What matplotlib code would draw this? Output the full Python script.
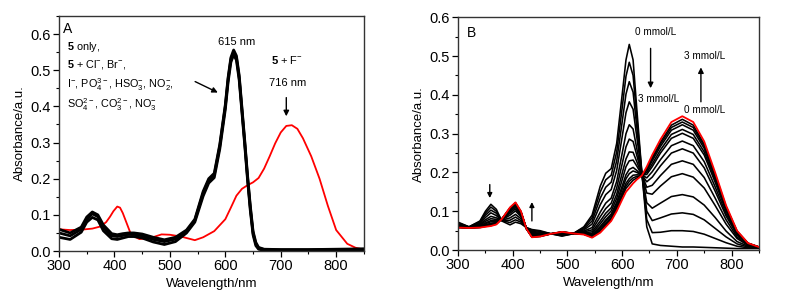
import numpy as np
import matplotlib
matplotlib.use('Agg')
import matplotlib.pyplot as plt
from matplotlib.ticker import MultipleLocator

plt.rcParams['font.family'] = ['Liberation Sans', 'DejaVu Sans']
plt.rcParams['mathtext.fontset'] = 'custom'
plt.rcParams['mathtext.rm'] = 'Liberation Sans'
plt.rcParams['mathtext.it'] = 'Liberation Sans:italic'
plt.rcParams['mathtext.bf'] = 'Liberation Sans:bold'
plt.rcParams['mathtext.default'] = 'regular'

""" Panel A: 5 alone / with other anions (black) and with F- (red) """
wl_a = [300, 320, 340, 350, 360, 370, 380, 395, 405, 415, 425, 435, 450, 470, 490,
        510, 530, 545, 560, 570, 580, 590, 600, 605, 610, 615, 620, 625, 630, 635,
        640, 645, 650, 655, 660, 670, 700, 750, 800, 850]
a_black_hi = [0.060, 0.050, 0.066, 0.094, 0.108, 0.100, 0.072, 0.048, 0.045, 0.048,
              0.050, 0.050, 0.047, 0.038, 0.031, 0.038, 0.058, 0.088, 0.165, 0.200,
              0.215, 0.295, 0.405, 0.480, 0.535, 0.556, 0.540, 0.486, 0.396, 0.306,
              0.211, 0.126, 0.055, 0.024, 0.010, 0.005, 0.004, 0.004, 0.005, 0.006]
a_black_mid = [0.050, 0.042, 0.060, 0.088, 0.103, 0.095, 0.065, 0.042, 0.040, 0.043,
               0.046, 0.046, 0.042, 0.032, 0.026, 0.033, 0.055, 0.085, 0.160, 0.195,
               0.210, 0.290, 0.400, 0.475, 0.530, 0.550, 0.535, 0.480, 0.390, 0.300,
               0.205, 0.120, 0.050, 0.020, 0.008, 0.004, 0.003, 0.003, 0.004, 0.005]
a_black_lo = [0.038, 0.032, 0.052, 0.080, 0.093, 0.086, 0.056, 0.034, 0.032, 0.036,
              0.040, 0.040, 0.036, 0.025, 0.018, 0.026, 0.050, 0.080, 0.152, 0.188,
              0.203, 0.282, 0.392, 0.467, 0.522, 0.543, 0.528, 0.473, 0.383, 0.293,
              0.198, 0.113, 0.045, 0.015, 0.005, 0.002, 0.002, 0.002, 0.003, 0.004]

wl_a_red = [300, 320, 340, 360, 375, 385, 392, 398, 405, 410, 415, 420, 430, 445, 465,
            485, 500, 520, 545, 560, 580, 600, 610, 620, 630, 640, 650, 660, 670, 680,
            690, 700, 710, 720, 730, 740, 755, 770, 785, 800, 820, 835, 850]
a_red = [0.060, 0.058, 0.059, 0.062, 0.068, 0.080, 0.095, 0.110, 0.123, 0.120,
         0.105, 0.085, 0.045, 0.033, 0.036, 0.046, 0.045, 0.040, 0.030, 0.038,
         0.055, 0.088, 0.120, 0.153, 0.172, 0.182, 0.190, 0.202, 0.228, 0.262,
         0.298, 0.328, 0.346, 0.348, 0.338, 0.312, 0.262, 0.200, 0.125, 0.058,
         0.020, 0.009, 0.004]

""" Panel B: titration with F- (0 -> 3 mmol/L) """
wl_b = [300, 320, 340, 350, 360, 370, 380, 395, 405, 415, 425, 435, 450, 470, 490,
        510, 530, 545, 560, 570, 580, 590, 600, 607, 613, 620, 627, 636, 645, 655,
        670, 690, 710, 730, 750, 770, 790, 810, 830, 850]

b_curves = [
    # 0 mmol/L
    [0.072, 0.060, 0.075, 0.100, 0.118, 0.105, 0.075, 0.065, 0.072, 0.068, 0.058, 0.053,
     0.050, 0.042, 0.036, 0.042, 0.060, 0.090, 0.165, 0.198, 0.210, 0.275, 0.400, 0.490,
     0.530, 0.490, 0.360, 0.200, 0.060, 0.016, 0.012, 0.010, 0.008, 0.008, 0.007, 0.006,
     0.005, 0.004, 0.004, 0.004],
    [0.070, 0.060, 0.073, 0.095, 0.111, 0.100, 0.076, 0.071, 0.078, 0.072, 0.058, 0.051,
     0.048, 0.042, 0.037, 0.042, 0.058, 0.083, 0.150, 0.181, 0.193, 0.253, 0.366, 0.448,
     0.484, 0.450, 0.338, 0.199, 0.079, 0.045, 0.046, 0.050, 0.050, 0.048, 0.041, 0.030,
     0.019, 0.010, 0.006, 0.005],
    [0.068, 0.059, 0.071, 0.090, 0.103, 0.095, 0.076, 0.077, 0.085, 0.076, 0.057, 0.048,
     0.046, 0.042, 0.039, 0.042, 0.055, 0.075, 0.134, 0.162, 0.175, 0.230, 0.330, 0.402,
     0.434, 0.407, 0.314, 0.198, 0.100, 0.076, 0.083, 0.093, 0.096, 0.092, 0.078, 0.056,
     0.034, 0.016, 0.008, 0.005],
    [0.066, 0.059, 0.068, 0.084, 0.096, 0.089, 0.077, 0.083, 0.092, 0.081, 0.057, 0.045,
     0.044, 0.042, 0.040, 0.042, 0.052, 0.067, 0.117, 0.143, 0.156, 0.205, 0.292, 0.354,
     0.382, 0.363, 0.289, 0.197, 0.122, 0.108, 0.121, 0.138, 0.143, 0.137, 0.116, 0.084,
     0.049, 0.022, 0.010, 0.006],
    [0.064, 0.058, 0.066, 0.078, 0.087, 0.083, 0.078, 0.090, 0.101, 0.086, 0.056, 0.042,
     0.042, 0.042, 0.042, 0.043, 0.049, 0.058, 0.098, 0.121, 0.134, 0.177, 0.249, 0.300,
     0.323, 0.312, 0.260, 0.196, 0.147, 0.144, 0.165, 0.189, 0.197, 0.188, 0.160, 0.115,
     0.067, 0.030, 0.012, 0.006],
    [0.063, 0.058, 0.064, 0.074, 0.081, 0.079, 0.078, 0.095, 0.106, 0.089, 0.056, 0.040,
     0.040, 0.042, 0.043, 0.043, 0.047, 0.052, 0.086, 0.107, 0.121, 0.160, 0.222, 0.266,
     0.286, 0.280, 0.243, 0.195, 0.162, 0.167, 0.192, 0.221, 0.230, 0.221, 0.187, 0.134,
     0.078, 0.034, 0.013, 0.007],
    [0.062, 0.058, 0.062, 0.070, 0.076, 0.076, 0.079, 0.099, 0.110, 0.092, 0.056, 0.038,
     0.039, 0.042, 0.044, 0.043, 0.045, 0.047, 0.075, 0.095, 0.109, 0.144, 0.198, 0.235,
     0.253, 0.252, 0.227, 0.194, 0.176, 0.188, 0.217, 0.250, 0.261, 0.250, 0.212, 0.152,
     0.088, 0.039, 0.015, 0.007],
    [0.061, 0.058, 0.061, 0.068, 0.073, 0.073, 0.079, 0.102, 0.113, 0.094, 0.056, 0.037,
     0.038, 0.042, 0.045, 0.043, 0.044, 0.043, 0.068, 0.086, 0.101, 0.133, 0.181, 0.215,
     0.230, 0.232, 0.216, 0.194, 0.186, 0.202, 0.233, 0.269, 0.281, 0.269, 0.228, 0.163,
     0.094, 0.041, 0.015, 0.007],
    [0.060, 0.057, 0.060, 0.065, 0.069, 0.071, 0.079, 0.104, 0.116, 0.096, 0.055, 0.036,
     0.037, 0.042, 0.046, 0.043, 0.043, 0.040, 0.061, 0.078, 0.093, 0.123, 0.165, 0.194,
     0.208, 0.213, 0.205, 0.193, 0.195, 0.215, 0.250, 0.288, 0.301, 0.288, 0.245, 0.175,
     0.101, 0.044, 0.016, 0.007],
    [0.059, 0.057, 0.060, 0.064, 0.068, 0.070, 0.080, 0.106, 0.118, 0.097, 0.055, 0.035,
     0.037, 0.042, 0.046, 0.043, 0.042, 0.038, 0.057, 0.074, 0.089, 0.118, 0.157, 0.184,
     0.197, 0.204, 0.200, 0.193, 0.200, 0.222, 0.258, 0.298, 0.311, 0.298, 0.253, 0.181,
     0.104, 0.045, 0.017, 0.008],
    [0.059, 0.057, 0.059, 0.063, 0.066, 0.069, 0.080, 0.107, 0.120, 0.098, 0.055, 0.034,
     0.036, 0.042, 0.046, 0.043, 0.041, 0.036, 0.053, 0.069, 0.084, 0.111, 0.148, 0.172,
     0.184, 0.193, 0.194, 0.193, 0.205, 0.230, 0.267, 0.309, 0.323, 0.309, 0.262, 0.187,
     0.108, 0.047, 0.017, 0.008],
    [0.059, 0.057, 0.059, 0.062, 0.065, 0.068, 0.080, 0.108, 0.121, 0.099, 0.055, 0.034,
     0.036, 0.042, 0.047, 0.043, 0.041, 0.035, 0.050, 0.066, 0.081, 0.108, 0.142, 0.165,
     0.177, 0.186, 0.190, 0.192, 0.208, 0.235, 0.273, 0.316, 0.330, 0.316, 0.268, 0.191,
     0.110, 0.048, 0.017, 0.008],
    [0.058, 0.057, 0.058, 0.061, 0.063, 0.067, 0.080, 0.109, 0.122, 0.099, 0.055, 0.034,
     0.035, 0.042, 0.047, 0.043, 0.041, 0.033, 0.048, 0.063, 0.078, 0.104, 0.137, 0.159,
     0.169, 0.180, 0.186, 0.192, 0.211, 0.239, 0.278, 0.322, 0.337, 0.322, 0.273, 0.195,
     0.112, 0.049, 0.018, 0.008],
]
# 3 mmol/L
b_red = [0.058, 0.057, 0.058, 0.060, 0.062, 0.066, 0.080, 0.110, 0.123, 0.100, 0.055,
         0.033, 0.035, 0.042, 0.047, 0.043, 0.040, 0.032, 0.045, 0.060, 0.075, 0.100,
         0.130, 0.150, 0.160, 0.172, 0.182, 0.192, 0.215, 0.245, 0.285, 0.330, 0.345,
         0.330, 0.280, 0.200, 0.115, 0.050, 0.018, 0.008]

fig = plt.figure(figsize=(7.98, 3.08), dpi=100)
fig.set_facecolor('white')
axA = fig.add_axes([0.074, 0.185, 0.382, 0.763])
axB = fig.add_axes([0.574, 0.188, 0.377, 0.756])


def style(ax, ymax):
    ax.set_xlim(300, 850)
    ax.set_ylim(0, ymax)
    ax.xaxis.set_major_locator(MultipleLocator(100))
    ax.xaxis.set_minor_locator(MultipleLocator(50))
    ax.yaxis.set_major_locator(MultipleLocator(0.1))
    ax.yaxis.set_minor_locator(MultipleLocator(0.05))
    ax.tick_params(which='major', direction='out', length=4, width=0.9, labelsize=10.5, pad=2)
    ax.tick_params(which='minor', direction='out', length=2, width=0.8)
    for s in ax.spines.values():
        s.set_linewidth(1.0)
        s.set_color('#333333')
    ax.set_xlabel('Wavelength/nm', fontsize=9.5, labelpad=3)
    ax.set_ylabel('Absorbance/a.u.', fontsize=9.5, labelpad=3)


# ---- panel A ----
axA.plot(wl_a_red, a_red, color='#FF0000', lw=1.3)
for ys in (a_black_hi, a_black_lo, a_black_mid):
    axA.plot(wl_a, ys, color='black', lw=2.0)
style(axA, 0.65)
axA.text(307, 0.615, 'A', fontsize=10, va='center')
txt_kw = dict(fontsize=7.8, va='center', ha='left')
axA.text(315, 0.565, r'$\mathbf{5}$ only,', **txt_kw)
axA.text(315, 0.517, r'$\mathbf{5}$ + Cl$^{-}$, Br$^{-}$,', **txt_kw)
axA.text(315, 0.460, r'I$^{-}$, PO$_4^{3-}$, HSO$_3^{-}$, NO$_2^{-}$,', **txt_kw)
axA.text(315, 0.405, r'SO$_4^{2-}$, CO$_3^{2-}$, NO$_3^{-}$', **txt_kw)
axA.annotate('', xy=(591, 0.435), xytext=(541, 0.472),
             arrowprops=dict(arrowstyle='-|>', color='black', lw=1.0, mutation_scale=8))
axA.text(621, 0.578, '615 nm', fontsize=8, ha='center', va='center')
axA.text(712, 0.527, r'$\mathbf{5}$ + F$^{-}$', fontsize=8, ha='center', va='center')
axA.text(712, 0.465, '716 nm', fontsize=8, ha='center', va='center')
axA.annotate('', xy=(710, 0.365), xytext=(710, 0.432),
             arrowprops=dict(arrowstyle='-|>', color='black', lw=1.0, mutation_scale=8))

# ---- panel B ----
for ys in b_curves:
    axB.plot(wl_b, ys, color='black', lw=1.15)
axB.plot(wl_b, b_red, color='#FF0000', lw=1.3)
style(axB, 0.6)
axB.text(316, 0.56, 'B', fontsize=10, va='center')
axB.text(661, 0.562, '0 mmol/L', fontsize=7.2, ha='center', va='center')
axB.annotate('', xy=(652, 0.41), xytext=(652, 0.527),
             arrowprops=dict(arrowstyle='-|>', color='black', lw=1.0, mutation_scale=8))
axB.text(667, 0.389, '3 mmol/L', fontsize=7.2, ha='center', va='center')
axB.text(750, 0.50, '3 mmol/L', fontsize=7.2, ha='center', va='center')
axB.annotate('', xy=(744, 0.478), xytext=(744, 0.375),
             arrowprops=dict(arrowstyle='-|>', color='black', lw=1.0, mutation_scale=8))
axB.text(750, 0.361, '0 mmol/L', fontsize=7.2, ha='center', va='center')
axB.annotate('', xy=(358, 0.127), xytext=(358, 0.176),
             arrowprops=dict(arrowstyle='-|>', color='black', lw=1.0, mutation_scale=7))
axB.annotate('', xy=(435, 0.131), xytext=(435, 0.068),
             arrowprops=dict(arrowstyle='-|>', color='black', lw=1.0, mutation_scale=7))

fig.savefig('out.png', dpi=100)
